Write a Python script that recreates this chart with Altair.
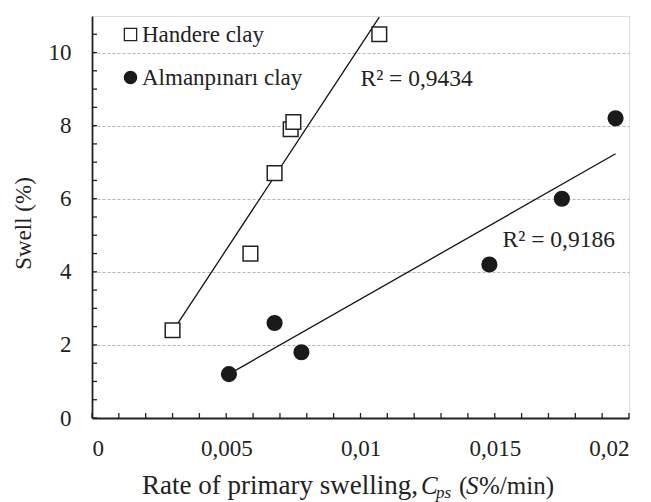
import altair as alt
import pandas as pd

# Measured swell versus rate of primary swelling for two clays
handere_x = [0.0030, 0.0059, 0.0068, 0.0074, 0.0075, 0.0107]
handere_y = [2.4, 4.5, 6.7, 7.9, 8.1, 10.5]

alman_x = [0.0051, 0.0068, 0.0078, 0.0148, 0.0175, 0.0195]
alman_y = [1.2, 2.6, 1.8, 4.2, 6.0, 8.2]

# Linear trend lines (end points) and their coefficients of determination
handere_fit_x = [0.0030, 0.0107]
handere_fit_y = [2.37, 10.97]
alman_fit_x = [0.0051, 0.0195]
alman_fit_y = [1.2, 7.23]
r2_text = ["R² = 0,9434", "R² = 0,9186"]
r2_x = [0.0100, 0.01529]
r2_y = [9.28, 4.88]

# Axis labels and minor tick marks
x_label_values = [0, 0.005, 0.01, 0.015, 0.02]
y_label_values = [0, 2, 4, 6, 8, 10]
x_minor = [0, 0.001, 0.002, 0.003, 0.004, 0.005, 0.006, 0.007, 0.008, 0.009, 0.010,
           0.011, 0.012, 0.013, 0.014, 0.015, 0.016, 0.017, 0.018, 0.019, 0.020]
y_minor = [0, 0.5, 1, 1.5, 2, 2.5, 3, 3.5, 4, 4.5, 5, 5.5, 6, 6.5, 7, 7.5, 8, 8.5,
           9, 9.5, 10, 10.5]

series = ["Handere clay", "Almanpınarı clay"]
FONT = "Liberation Serif"
W, H = 537, 402

points = pd.DataFrame({
    "rate": handere_x + alman_x,
    "swell": handere_y + alman_y,
    "clay": [series[0]] * len(handere_x) + [series[1]] * len(alman_x),
})
fits = pd.DataFrame({
    "rate": handere_fit_x + alman_fit_x,
    "swell": handere_fit_y + alman_fit_y,
    "clay": [series[0]] * 2 + [series[1]] * 2,
})
r2 = pd.DataFrame({"rate": r2_x, "swell": r2_y, "label": r2_text})

x_scale = alt.Scale(domain=[0, 0.02], nice=False, zero=False)
y_scale = alt.Scale(domain=[0, 11], nice=False, zero=False)

x_enc = alt.X("rate:Q", scale=x_scale, axis=alt.Axis(
    values=x_label_values, title=None, grid=False, ticks=False,
    labelExpr="replace(toString(datum.value), '.', ',')",
    labelFont=FONT, labelFontSize=23, labelColor="#222", labelPadding=19,
    domainColor="#222", domainWidth=1.8))
y_enc = alt.Y("swell:Q", scale=y_scale, axis=alt.Axis(
    values=y_label_values, title="Swell (%)", grid=True, ticks=False,
    gridColor="#b5b5b5", gridDash=[3, 2], gridWidth=1,
    labelFont=FONT, labelFontSize=23, labelColor="#222", labelPadding=21,
    titleFont=FONT, titleFontSize=23, titleFontWeight="normal", titleColor="#222",
    titlePadding=13, titleY=207, domainColor="#222", domainWidth=1.8))

trend = alt.Chart(fits).mark_line(color="#111", strokeWidth=1.3).encode(
    x=x_enc, y=y_enc, detail="clay:N")

legend = alt.Legend(title=None, orient="none", legendX=27, legendY=7,
                    labelFont=FONT, labelFontSize=23, labelColor="#222",
                    labelLimit=400, symbolSize=150, symbolStrokeWidth=1.3,
                    rowPadding=19, labelOffset=0, padding=0)

pts = alt.Chart(points).mark_point(opacity=1, strokeWidth=1.5, size=215).encode(
    x="rate:Q", y="swell:Q",
    shape=alt.Shape("clay:N", scale=alt.Scale(domain=series, range=["square", "circle"]),
                    legend=legend),
    fill=alt.Fill("clay:N", scale=alt.Scale(domain=series, range=["white", "#1a1a1a"]),
                  legend=legend),
    stroke=alt.Stroke("clay:N", scale=alt.Scale(domain=series, range=["#222", "#1a1a1a"]),
                      legend=legend),
)

r2_text_layer = alt.Chart(r2).mark_text(
    font=FONT, fontSize=23.5, color="#222", align="left", baseline="middle"
).encode(x="rate:Q", y="swell:Q", text="label:N")

# Inward-pointing minor ticks on both axes
xt = alt.Chart(pd.DataFrame({"t": x_minor})).mark_rule(color="#222", strokeWidth=1.3).encode(
    x=alt.X("t:Q", scale=x_scale), y=alt.value(H), y2=alt.value(H - 5))
yt = alt.Chart(pd.DataFrame({"t": y_minor})).mark_rule(color="#222", strokeWidth=1.3).encode(
    y=alt.Y("t:Q", scale=y_scale), x=alt.value(0), x2=alt.value(5))

# X-axis title with italic symbol and subscript
title_parts = pd.DataFrame({
    "txt": ["Rate of primary swelling,", "C", "ps", "(", "S", "%/min)"],
    "px": [326, 329, 344, 367, 374, 387],
    "py": [478, 478, 482, 478, 478, 478],
    "style": ["normal", "italic", "italic", "normal", "italic", "normal"],
    "size": [27, 25, 17, 25, 25, 25],
    "anchor": ["right", "left", "left", "left", "left", "left"],
})
title_layers = []
for _, row in title_parts.iterrows():
    title_layers.append(
        alt.Chart(pd.DataFrame({"txt": [row["txt"]]})).mark_text(
            font=FONT, fontSize=int(row["size"]), fontStyle=row["style"], color="#222",
            align=row["anchor"], baseline="alphabetic"
        ).encode(text="txt:N", x=alt.value(int(row["px"])), y=alt.value(int(row["py"])))
    )

chart = alt.layer(trend, pts, r2_text_layer, xt, yt, *title_layers).properties(
    width=W, height=H,
    autosize=alt.AutoSizeParams(type="none"),
    padding={"left": 92, "top": 16, "right": 22, "bottom": 84},
).configure_view(stroke="#555", strokeWidth=2).configure(background="white")

chart.save("out.html", embed_options={"renderer": "svg", "actions": False})
